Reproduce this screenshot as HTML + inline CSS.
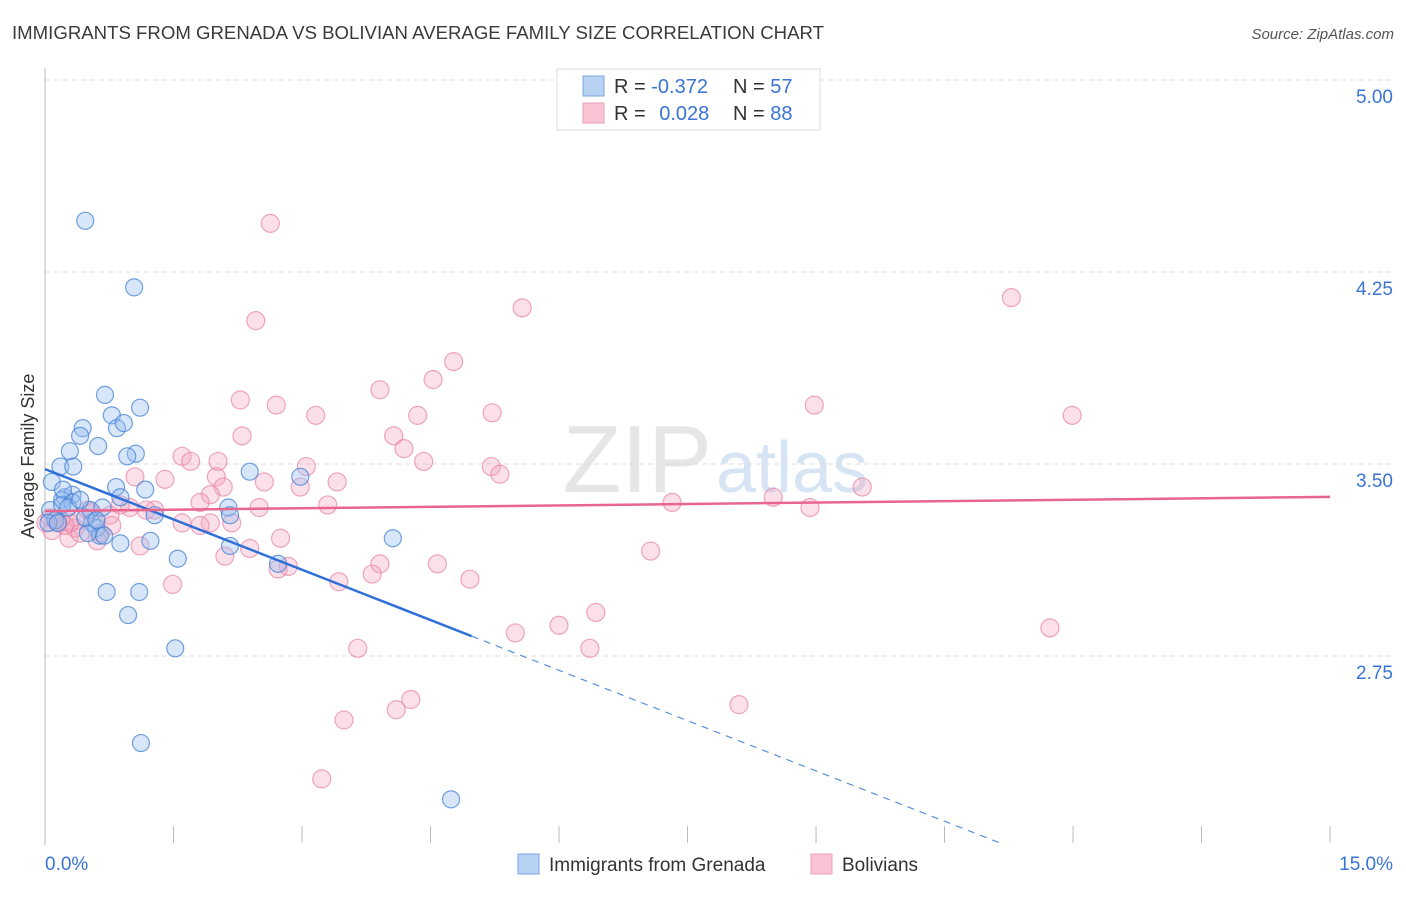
<!DOCTYPE html>
<html><head><meta charset="utf-8"><style>
body{margin:0;background:#fff;font-family:"Liberation Sans",sans-serif;}
svg text{font-family:"Liberation Sans",sans-serif;}
</style></head><body>
<svg id="chart" width="1406" height="892" xmlns="http://www.w3.org/2000/svg">
<text x="12" y="39" font-size="18.5" fill="#3a3a3a" textLength="812" lengthAdjust="spacingAndGlyphs">IMMIGRANTS FROM GRENADA VS BOLIVIAN AVERAGE FAMILY SIZE CORRELATION CHART</text>
<text x="1394" y="39" font-size="15" fill="#555" text-anchor="end" font-style="italic">Source: ZipAtlas.com</text>
<text x="712" y="492" font-size="96" fill="#e6e6e6" text-anchor="end" font-family="Liberation Serif">ZIP</text>
<text x="716" y="492" font-size="72" fill="#d6e4f4">atlas</text>
<g id="grid"></g><g id="axes"></g><g id="pts"></g><g id="lines"></g>
<text transform="translate(34,456) rotate(-90)" font-size="18" fill="#333" text-anchor="middle">Average Family Size</text>
<g>
<rect x="557" y="69" width="263" height="61" fill="#fff" stroke="#ddd"/>
<rect x="583" y="76" width="21" height="20" fill="#b8d2f4" stroke="#7aa6e0"/>
<rect x="583" y="103" width="21" height="20" fill="#f8c4d4" stroke="#eba0b8"/>
<text x="614" y="93" font-size="20" fill="#333">R = <tspan fill="#3a74d4">-0.372</tspan></text>
<text x="733" y="93" font-size="20" fill="#333">N = <tspan fill="#3a74d4">57</tspan></text>
<text x="614" y="120" font-size="20" fill="#333">R = <tspan fill="#3a74d4" dx="8">0.028</tspan></text>
<text x="733" y="120" font-size="20" fill="#333">N = <tspan fill="#3a74d4">88</tspan></text>
</g>
<g>
<rect x="518" y="854" width="21" height="20" fill="#b8d2f4" stroke="#7aa6e0"/>
<text x="549" y="871" font-size="19" fill="#333">Immigrants from Grenada</text>
<rect x="811" y="854" width="21" height="20" fill="#f8c4d4" stroke="#eba0b8"/>
<text x="842" y="871" font-size="19" fill="#333">Bolivians</text>
</g>
</svg>
<script>
const yTicks=[5.00,4.25,3.50,2.75];
const yTickLabels=["5.00","4.25","3.50","2.75"];
const xTickCount=[0,1.5,3,4.5,6,7.5,9,10.5,12,13.5,15];
const xLabels=["0.0%","15.0%"];
const blueX=[0.47,1.04,0.70,1.11,0.78,0.84,0.92,0.44,0.41,0.62,0.29,1.06,0.96,0.18,0.33,0.08,0.83,1.17,2.39,2.98,0.23,0.32,0.20,0.88,0.32,0.53,0.67,2.14,1.28,0.06,2.16,0.12,0.04,0.55,0.60,0.64,0.69,0.88,1.23,2.16,0.50,1.55,2.72,4.06,0.72,1.10,0.97,1.52,1.12,4.74,0.20,0.27,0.15,0.47,0.60,0.41,0.21];
const blueY=[4.45,4.19,3.77,3.72,3.69,3.64,3.66,3.64,3.61,3.57,3.55,3.54,3.53,3.49,3.49,3.43,3.41,3.40,3.47,3.45,3.37,3.38,3.36,3.37,3.35,3.32,3.33,3.33,3.30,3.32,3.30,3.28,3.27,3.27,3.25,3.22,3.22,3.19,3.20,3.18,3.23,3.13,3.11,3.21,3.00,3.00,2.91,2.78,2.41,2.19,3.34,3.33,3.27,3.29,3.28,3.36,3.40];
const pinkX=[2.63,5.57,11.28,2.46,4.77,4.53,3.91,2.28,2.70,3.16,4.35,5.22,8.98,11.99,2.30,4.07,4.19,1.60,2.02,1.70,3.05,4.42,5.21,5.31,1.05,1.40,2.00,3.41,2.56,2.08,9.54,1.93,1.81,8.50,7.32,8.93,3.30,2.50,2.18,2.75,2.98,1.28,0.99,0.76,0.65,0.18,0.35,0.08,0.28,0.39,0.78,1.60,1.93,0.61,1.11,2.39,2.10,2.84,3.91,4.58,7.07,3.82,4.96,3.43,1.49,2.72,6.43,6.00,5.49,11.73,6.36,3.65,4.27,4.10,8.10,3.49,3.23,0.01,0.06,0.15,0.29,0.50,0.88,1.18,0.41,0.23,0.55,1.81];
const pinkY=[4.44,4.11,4.15,4.06,3.90,3.83,3.79,3.75,3.73,3.69,3.69,3.70,3.73,3.69,3.61,3.61,3.56,3.53,3.51,3.51,3.49,3.51,3.49,3.46,3.45,3.44,3.45,3.43,3.43,3.41,3.41,3.38,3.35,3.37,3.35,3.33,3.34,3.33,3.27,3.21,3.41,3.32,3.33,3.30,3.23,3.28,3.25,3.24,3.21,3.28,3.26,3.27,3.27,3.20,3.18,3.17,3.14,3.10,3.11,3.11,3.16,3.07,3.05,3.04,3.03,3.09,2.92,2.87,2.84,2.86,2.78,2.78,2.58,2.54,2.56,2.50,2.27,3.27,3.29,3.27,3.27,3.32,3.34,3.32,3.23,3.26,3.31,3.26];
const blueFit=[3.48,-0.131];
const pinkFit=[3.316,0.0037];
const NS="http://www.w3.org/2000/svg";
const X=v=>45+v*85.67, Y=v=>80+(5-v)*256;
function mk(t,a,p){const e=document.createElementNS(NS,t);for(const k in a)e.setAttribute(k,a[k]);document.getElementById(p).appendChild(e);return e;}
yTicks.forEach((t,i)=>{
 const g=mk('line',{x1:45,x2:1393,y1:Y(t),y2:Y(t),stroke:'#dcdcdc','stroke-dasharray':'5,4'},'grid');
 
 
 const l=mk('text',{x:1393,y:Y(t)+23,'font-size':19,fill:'#3a74d4','text-anchor':'end'},'axes');
 l.textContent=yTickLabels[i];
 
 
});
const ax=mk('line',{x1:45,x2:45,y1:68,y2:845,stroke:'#bbb'},'axes');


xTickCount.forEach(t=>{
 const k=mk('line',{x1:X(t),x2:X(t),y1:826,y2:843,stroke:'#bbb'},'axes');
 
 
});
[[0,45,'start'],[15,1393,'end']].forEach((d,i)=>{
 const l=mk('text',{x:d[1],y:870,'font-size':19,fill:'#3a74d4','text-anchor':d[2]},'axes');
 l.textContent=xLabels[i];
 
 
});
pinkX.forEach((x,i)=>{
 const c=mk('circle',{cx:X(x),cy:Y(pinkY[i]),r:9,fill:'rgba(244,160,188,0.32)',stroke:'rgba(232,130,164,0.7)','stroke-width':1.2},'pts');
 
 
});
blueX.forEach((x,i)=>{
 const c=mk('circle',{cx:X(x),cy:Y(blueY[i]),r:8.5,fill:'rgba(150,190,240,0.38)',stroke:'rgba(70,130,215,0.75)','stroke-width':1.2},'pts');
 
 
});
const bf=x=>blueFit[0]+blueFit[1]*x;
const bEnd=4.98, bMin=(2.02-blueFit[0])/blueFit[1];
const b1=mk('line',{x1:X(0),y1:Y(bf(0)),x2:X(bEnd),y2:Y(bf(bEnd)),stroke:'#2f6fd8','stroke-width':2.5},'lines');


const b2=mk('line',{x1:X(bEnd),y1:Y(bf(bEnd)),x2:X(bMin),y2:Y(bf(bMin)),stroke:'#5a8fe0','stroke-width':1.2,'stroke-dasharray':'7,6'},'lines');


const pf=x=>pinkFit[0]+pinkFit[1]*x;
const p1=mk('line',{x1:X(0),y1:Y(pf(0)),x2:X(15),y2:Y(pf(15)),stroke:'#e8668e','stroke-width':2.5},'lines');


</script>
</body></html>
